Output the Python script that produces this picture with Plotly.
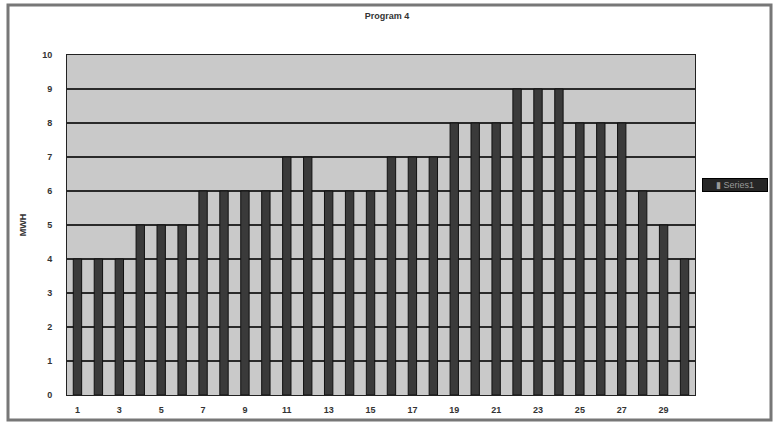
import plotly.graph_objects as go

categories = list(range(1, 31))
values = [4, 4, 4, 5, 5, 5, 6, 6, 6, 6, 7, 7, 6, 6, 6, 7, 7, 7, 8, 8, 8, 9, 9, 9, 8, 8, 8, 6, 5, 4]
x_ticks = [1, 3, 5, 7, 9, 11, 13, 15, 17, 19, 21, 23, 25, 27, 29]
y_ticks = list(range(0, 11))
series_name = "Series1"
title_text = "Program 4"
y_title = "MWH"

W, H = 779, 426
L, R, T, B = 67, 84, 55, 31
pw, ph = W - L - R, H - T - B

fig = go.Figure()
fig.add_trace(go.Bar(
    x=categories, y=values, name=series_name,
    marker=dict(color="#3a3a3a", line=dict(color="#111111", width=1)),
    width=0.4, showlegend=False,
))

fig.update_layout(
    width=W, height=H,
    margin=dict(l=L, r=R, t=T, b=B, autoexpand=False),
    paper_bgcolor="white",
    plot_bgcolor="#c9c9c9",
    font=dict(family="Liberation Sans, Arial, sans-serif", size=9, color="#222"),
    title=dict(text="<b>" + title_text + "</b>", x=387 / W, xanchor="center",
               y=1 - 16 / H, yanchor="middle", font=dict(size=9, color="#333")),
    showlegend=False,
    bargap=0.6,
)
fig.update_xaxes(
    range=[0.5, 30.5], tickvals=x_ticks, ticktext=["<b>%d</b>" % v for v in x_ticks],
    showgrid=False, showline=True, linecolor="#222", linewidth=1, mirror=True,
    ticks="", tickfont=dict(size=9, color="#333"),
    ticklabelstandoff=6,
)
fig.update_yaxes(
    range=[0, 10], tickvals=y_ticks, ticktext=["<b>%d</b>" % v for v in y_ticks],
    showgrid=True, gridcolor="#2a2a2a", gridwidth=1.5,
    showline=True, linecolor="#222", linewidth=1, mirror=True,
    ticks="", tickfont=dict(size=9, color="#333"), ticklabelstandoff=12,
    title=dict(text="<b>" + y_title + "</b>", font=dict(size=9, color="#333"), standoff=14),
    zeroline=False,
)

# legend box (drawn as a boxed label)
fig.add_annotation(
    xref="paper", yref="paper",
    x=(702 - L) / pw, y=1 - (185 - T) / ph, xanchor="left", yanchor="middle",
    text="▮ " + series_name, showarrow=False,
    font=dict(size=9, color="#999999"),
    bgcolor="#262626", bordercolor="#000", borderwidth=1, borderpad=1,
    width=62, align="center",
)

# outer chart frame
fig.add_shape(type="rect", xref="paper", yref="paper",
              x0=(8 - L) / pw, x1=(771 - L) / pw,
              y0=1 - (420 - T) / ph, y1=1 - (5 - T) / ph,
              line=dict(color="#777", width=3), fillcolor="rgba(0,0,0,0)", layer="below")

fig.write_html("out.html", config={"displayModeBar": False},
               post_script="document.body.style.margin='0';")
